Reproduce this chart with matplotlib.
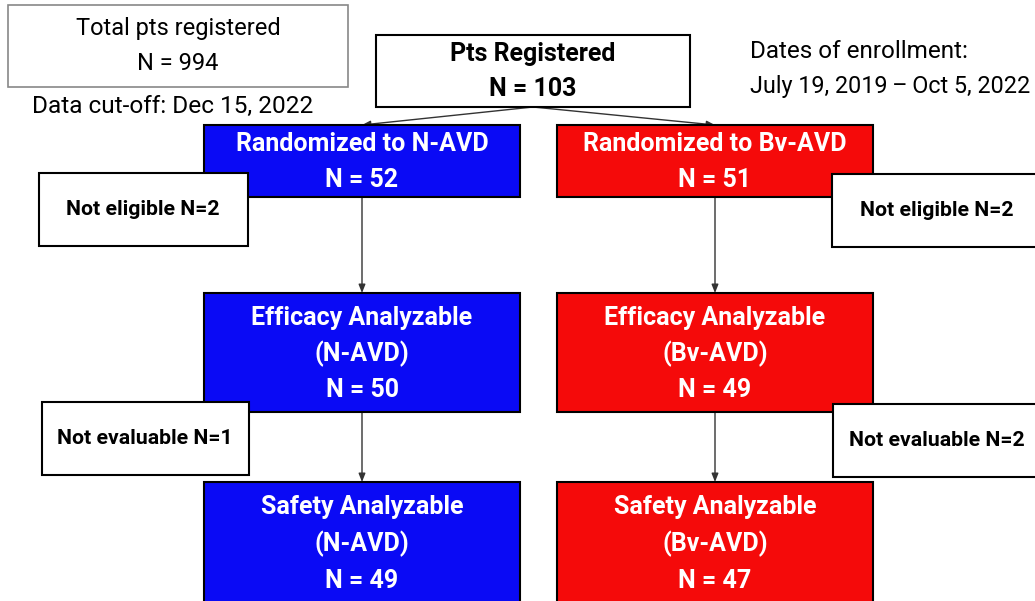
import matplotlib
matplotlib.use("Agg")
import matplotlib.pyplot as plt
from matplotlib.patches import Rectangle

FONT = ['Roboto', 'DejaVu Sans']

# ---- data ----
total_label = ["Total pts registered", "N = 994"]
cutoff_label = "Data cut-off: Dec 15, 2022"
registered_label = ["Pts Registered", "N = 103"]
enroll_label = ["Dates of enrollment:", "July 19, 2019\u2009\u2013\u2009Oct 5, 2022"]
arms = ["N-AVD", "Bv-AVD"]
arm_colors = ["#0A0AF5", "#F50A0A"]
randomized_n = [52, 51]
not_eligible_n = [2, 2]
efficacy_n = [50, 49]
not_evaluable_n = [1, 2]
safety_n = [49, 47]

W, H = 1035, 601
fig = plt.figure(figsize=(W / 100, H / 100), dpi=100)
ax = fig.add_axes([0, 0, 1, 1])
ax.set_xlim(0, W)
ax.set_ylim(H, 0)
ax.axis('off')


def box(x0, y0, x1, y1, fc='white', ec='black', lw=1.5):
    ax.add_patch(Rectangle((x0, y0), x1 - x0, y1 - y0, facecolor=fc,
                           edgecolor=ec, linewidth=lw, zorder=2))


def lines(xc, ys, texts, size, color='black', weight='normal'):
    for y, t in zip(ys, texts):
        ax.text(xc, y, t, ha='center', va='center', fontsize=size,
                color=color, fontweight=weight, family=FONT, zorder=3)


def arrow(x0, y0, x1, y1):
    ax.annotate('', xy=(x1, y1), xytext=(x0, y0),
                arrowprops=dict(arrowstyle='-|>,head_length=0.5,head_width=0.2',
                                color='#333333', lw=1.0, shrinkA=0, shrinkB=0),
                zorder=1)


# top-left info box
box(8, 5, 348, 87, ec='#888888', lw=1.2)
lines(178, [28, 64], total_label, 17)
ax.text(173, 106, cutoff_label, ha='center', va='center', fontsize=17.6,
        family=FONT)

# registered box
box(376, 35, 690, 107)
lines(533, [54, 89], registered_label, 18, weight='bold')

# enrollment dates
ax.text(750, 52, enroll_label[0], ha='left', va='center', fontsize=17.5, family=FONT)
ax.text(750, 86, enroll_label[1], ha='left', va='center', fontsize=16.8, family=FONT)

col_x = [(204, 520), (557, 873)]
elig_box = [(39, 173, 248, 246), (832, 174, 1045, 247)]
eval_box = [(42, 402, 249, 475), (833, 404, 1045, 477)]
elig_tx = [143, 937]
eval_tx = [145, 937]

for i, arm in enumerate(arms):
    x0, x1 = col_x[i]
    xc = (x0 + x1) / 2
    c = arm_colors[i]
    # arrows
    arrow(533, 107, xc, 125)
    arrow(xc, 197, xc, 293)
    arrow(xc, 412, xc, 482)
    # randomized
    box(x0, 125, x1, 197, fc=c)
    lines(xc, [144, 180], [f"Randomized to {arm}", f"N = {randomized_n[i]}"],
          18, color='white', weight='bold')
    # efficacy
    box(x0, 293, x1, 412, fc=c)
    lines(xc, [318, 354, 390],
          ["Efficacy Analyzable", f"({arm})", f"N = {efficacy_n[i]}"],
          18, color='white', weight='bold')
    # safety
    box(x0, 482, x1, 620, fc=c)
    lines(xc, [507, 544, 581],
          ["Safety Analyzable", f"({arm})", f"N = {safety_n[i]}"],
          18, color='white', weight='bold')
    # side boxes
    bx0, by0, bx1, by1 = elig_box[i]
    box(bx0, by0, bx1, by1)
    lines(elig_tx[i], [(by0 + by1) / 2], [f"Not eligible N={not_eligible_n[i]}"],
          15.3, weight='bold')
    bx0, by0, bx1, by1 = eval_box[i]
    box(bx0, by0, bx1, by1)
    lines(eval_tx[i], [(by0 + by1) / 2], [f"Not evaluable N={not_evaluable_n[i]}"],
          15.3, weight='bold')

fig.savefig('out.png', dpi=100)
